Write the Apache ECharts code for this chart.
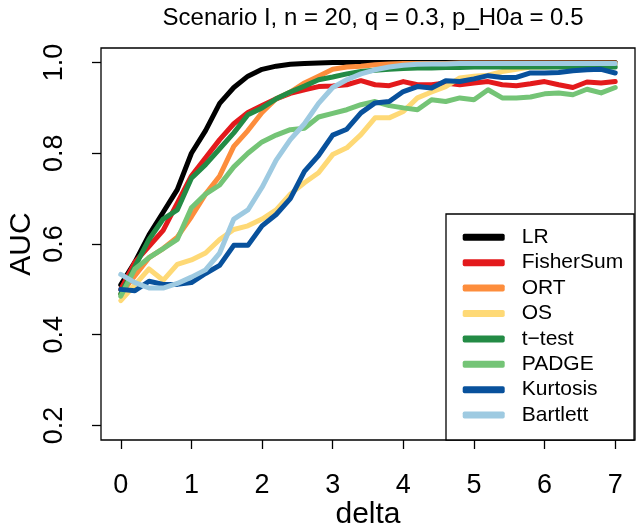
<!DOCTYPE html>
<html><head><meta charset="utf-8">
<script src="https://cdn.jsdelivr.net/npm/echarts@6/dist/echarts.min.js"></script>
<style>html,body{margin:0;padding:0;background:#fff}#c{width:637px;height:528px}</style>
</head><body><div id="c"></div>
<script>
var titleText = 'Scenario I, n = 20, q = 0.3, p_H0a = 0.5';
var delta = [0,0.2,0.4,0.6,0.8,1.0,1.2,1.4,1.6,1.8,2.0,2.2,2.4,2.6,2.8,3.0,3.2,3.4,3.6,3.8,4.0,4.2,4.4,4.6,4.8,5.0,5.2,5.4,5.6,5.8,6.0,6.2,6.4,6.6,6.8,7.0];
var xTicks = [0,1,2,3,4,5,6,7];
var yTicks = [0.2,0.4,0.6,0.8,1.0];
var seriesNames = ['LR','FisherSum','ORT','OS','t\u2212test','PADGE','Kurtosis','Bartlett'];
var seriesColors = ['#000000','#E31A1C','#FD8D3C','#FED976','#238B45','#74C476','#08519C','#9ECAE1'];
var LR = [0.51,0.56,0.62,0.67,0.72,0.80,0.85,0.91,0.945,0.97,0.985,0.992,0.996,0.998,0.999,1,1,1,1,1,1,1,1,1,1,1,1,1,1,1,1,1,1,1,1,1];
var FisherSum = [0.50,0.56,0.595,0.63,0.69,0.75,0.79,0.83,0.865,0.89,0.905,0.92,0.932,0.94,0.947,0.948,0.951,0.96,0.951,0.949,0.958,0.951,0.951,0.955,0.951,0.955,0.958,0.951,0.949,0.953,0.958,0.951,0.945,0.957,0.955,0.958];
var ORT = [0.49,0.53,0.57,0.59,0.615,0.66,0.71,0.75,0.815,0.85,0.89,0.92,0.935,0.955,0.97,0.985,0.99,0.992,0.995,0.997,0.998,0.998,0.998,0.998,0.999,0.999,0.999,0.999,0.999,0.999,0.999,0.999,0.999,0.999,0.999,0.999];
var OS = [0.475,0.51,0.545,0.52,0.555,0.565,0.58,0.61,0.632,0.64,0.655,0.675,0.71,0.735,0.757,0.797,0.812,0.841,0.878,0.878,0.892,0.922,0.935,0.947,0.966,0.97,0.972,0.98,0.985,0.99,0.99,0.992,0.993,0.995,0.995,0.996];
var tTest = [0.49,0.55,0.61,0.655,0.675,0.745,0.775,0.81,0.845,0.885,0.90,0.92,0.935,0.948,0.962,0.968,0.975,0.98,0.983,0.985,0.987,0.988,0.988,0.989,0.989,0.99,0.99,0.99,0.99,0.99,0.99,0.99,0.99,0.99,0.99,0.99];
var PADGE = [0.485,0.545,0.57,0.59,0.61,0.68,0.71,0.73,0.77,0.80,0.825,0.84,0.852,0.855,0.88,0.888,0.896,0.907,0.914,0.905,0.90,0.896,0.918,0.914,0.922,0.918,0.94,0.922,0.922,0.924,0.931,0.933,0.929,0.941,0.933,0.945];
var Kurtosis = [0.50,0.497,0.518,0.511,0.511,0.515,0.535,0.553,0.597,0.597,0.64,0.665,0.70,0.76,0.795,0.84,0.853,0.889,0.911,0.914,0.936,0.947,0.944,0.96,0.958,0.964,0.971,0.967,0.967,0.977,0.977,0.978,0.982,0.984,0.985,0.977];
var Bartlett = [0.533,0.515,0.503,0.503,0.513,0.527,0.543,0.58,0.655,0.675,0.725,0.785,0.83,0.865,0.91,0.945,0.962,0.975,0.984,0.99,0.994,0.996,0.997,0.997,0.998,0.998,0.998,0.998,0.998,0.998,0.998,0.998,0.998,0.998,0.998,0.998];
var seriesData = [LR,FisherSum,ORT,OS,tTest,PADGE,Kurtosis,Bartlett];

var FONT = '"Liberation Sans", Arial, Helvetica, sans-serif';
var chart = echarts.init(document.getElementById('c'), null, {renderer:'canvas'});
var series = seriesNames.map(function(name, i){
  return {
    name: name, type: 'line', symbol: 'none', animation: false,
    data: delta.map(function(d, j){ return [d, seriesData[i][j]]; }),
    lineStyle: {color: seriesColors[i], width: 5, cap: 'round', join: 'round'},
    itemStyle: {color: seriesColors[i]}
  };
});
chart.setOption({
  backgroundColor: '#fff',
  animation: false,
  title: {text: titleText, left: 368, top: 1, textAlign: 'center',
    textStyle: {fontFamily: FONT, fontWeight: 'normal', fontSize: 24, color: '#000'}},
  grid: {left: 101, right: 2, top: 48, bottom: 88, show: true, borderColor: '#000', borderWidth: 1.3,
    backgroundColor: 'transparent', outerBoundsMode: 'none', containLabel: false},
  xAxis: {type: 'value', min: -0.28, max: 7.28,
    name: 'delta', nameLocation: 'middle', nameGap: 60, nameMoveOverlap: false,
    nameTextStyle: {fontFamily: FONT, fontSize: 30, color: '#000'},
    axisLine: {show: false, onZero: false}, splitLine: {show: false},
    axisTick: {show: true, inside: false, customValues: xTicks, length: 9, lineStyle: {color: '#000', width: 1.3}},
    axisLabel: {customValues: xTicks, margin: 32, fontFamily: FONT, fontSize: 27, color: '#000'}
  },
  yAxis: {type: 'value', min: 0.168, max: 1.032,
    name: 'AUC', nameLocation: 'middle', nameGap: 64, nameMoveOverlap: false,
    nameTextStyle: {fontFamily: FONT, fontSize: 30, color: '#000'},
    axisLine: {show: false, onZero: false}, splitLine: {show: false},
    axisTick: {show: true, inside: false, customValues: yTicks, length: 9, lineStyle: {color: '#000', width: 1.3}},
    axisLabel: {customValues: yTicks, rotate: 90, margin: 33, fontFamily: FONT, fontSize: 27, color: '#000',
      formatter: function(v){ return v.toFixed(1); }}
  },
  legend: {orient: 'vertical', left: 446, top: 214,
    data: seriesNames,
    icon: 'roundRect',
    itemWidth: 42, itemHeight: 7, itemGap: 4.4,
    padding: [12.8, 10.8, 14.4, 16.7],
    backgroundColor: '#fff', borderColor: '#000', borderWidth: 1.3, borderRadius: 0,
    textStyle: {fontFamily: FONT, fontSize: 21, lineHeight: 21, color: '#000', padding: [0,0,0,12]}
  },
  series: series
});
</script></body></html>
